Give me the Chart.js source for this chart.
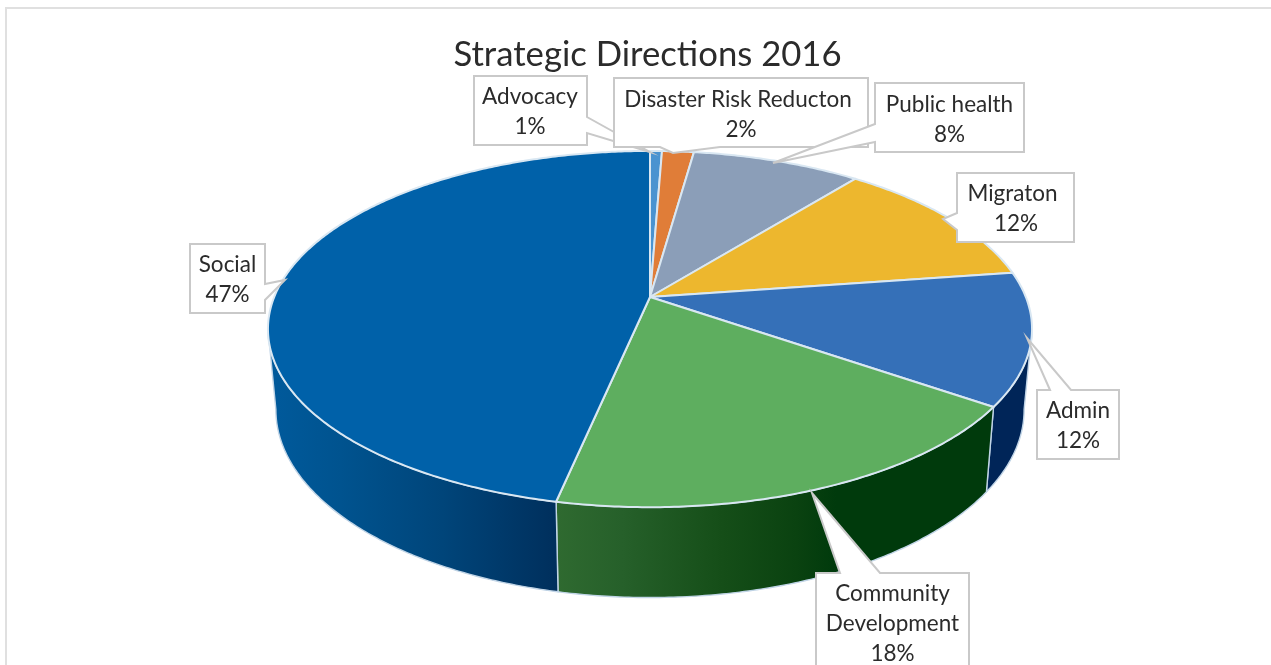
<!DOCTYPE html>
<html><head><meta charset="utf-8">
<style>html,body{margin:0;padding:0;background:#fff;overflow:hidden}canvas{display:block}</style>
<script src="https://cdn.jsdelivr.net/npm/chart.js@4"></script>
</head><body><canvas id="c" width="1271" height="665"></canvas>
<script>
const categories = ['Advocacy','Disaster Risk Reducton','Public health','Migraton','Admin','Community Development','Social'];
const shareValues = [0.6,1.6,8.5,12,12,18.6,46.7];
const shownPercent = ['1%','2%','8%','12%','12%','18%','47%'];
const topColors = ['#4a93d0','#e07d38','#8b9eb8','#edb72e','#3570b8','#5eae5f','#0061a9'];

/* perspective of the pie */
const K=-0.18, CX=650;
const TOP={a:375.8,b:118.9,c:297}, BOT={a:368,b:114,c:376};
const proj=(p,ang)=>{const s=Math.sin(ang),co=Math.cos(ang),w=1+K*s;return [CX+p.a*co/w,(p.c+p.b*s)/w];};
const sideStyle=[
 [[0,'#00305e'],[1,'#00305e']],
 [[0,'#00305e'],[1,'#00305e']],
 [[0,'#00305e'],[1,'#00305e']],
 [[0,'#002558'],[1,'#002558']],
 [[0,'#002558'],[1,'#002558']],
 [[0,'#003a0c'],[0.36,'#003a0c'],[0.45,'#0a4210'],[0.62,'#154e18'],[0.85,'#26602a'],[1,'#2f6a30']],
 [[0,'#002f5c'],[0.4,'#00457a'],[0.75,'#00538f'],[1,'#005a9c']]
];
const callouts=[
 {i:0,lines:['Advocacy'],poly:[[474,76],[587,76],[587,117],[650,152],[587,133],[587,145],[474,145]],cx:530,px:530,ys:[97,127]},
 {i:1,lines:['Disaster Risk Reducton'],poly:[[614,78],[868,78],[868,147],[720,147],[673,153],[660,147],[614,147]],cx:738,px:741,ys:[100,130]},
 {i:2,lines:['Public health'],poly:[[875,83],[1024,83],[1024,152],[875,152],[875,142],[773,163],[875,124]],cx:949.5,px:949.5,ys:[105,135]},
 {i:3,lines:['Migraton'],poly:[[957,173],[1074,173],[1074,242],[957,242],[957,230],[943,219],[957,213]],cx:1012.5,px:1016,ys:[194,224]},
 {i:4,lines:['Admin'],poly:[[1050,390],[1027,338],[1071,390],[1119,390],[1119,459],[1037,459],[1037,390]],cx:1078,px:1078,ys:[411,441]},
 {i:5,lines:['Community','Development'],poly:[[816,573],[840,573],[812,493],[880,573],[969,573],[969,680],[816,680]],cx:892.5,px:892.5,ys:[594,624,654]},
 {i:6,lines:['Social'],poly:[[190,244],[265,244],[265,284],[285,280],[265,300],[265,313],[190,313]],cx:227.5,px:227.5,ys:[265,295]}
];
const rim=(p,a0,a1,path,rev)=>{const n=Math.max(2,Math.ceil(Math.abs(a1-a0)/0.01));
  for(let k=0;k<=n;k++){const t=k/n,a=rev?a1+(a0-a1)*t:a0+(a1-a0)*t,q=proj(p,a);path.push(q);}};
const trace=(ctx,pts)=>{ctx.beginPath();pts.forEach((q,i)=>i?ctx.lineTo(q[0],q[1]):ctx.moveTo(q[0],q[1]));ctx.closePath();};

const pie3d={id:'pie3d',
 beforeDraw(ch){const c=ch.ctx;c.save();c.fillStyle='#fff';c.fillRect(0,0,1271,665);
   c.strokeStyle='#e0e0e0';c.lineWidth=2;c.beginPath();c.moveTo(6,665);c.lineTo(6,8);c.lineTo(1271,8);c.stroke();c.restore();},
 beforeDatasetDraw(ch,args){
  const c=ch.ctx,arcs=args.meta.data;
  const VIS0=0.18,VIS1=Math.PI-0.18;
  c.save();
  arcs.forEach((e,i)=>{
    const a0=Math.max(e.startAngle,VIS0),a1=Math.min(e.endAngle,VIS1);
    if(a1<=a0)return;
    const pts=[];rim(TOP,a0,a1,pts,false);rim(BOT,a0,a1,pts,true);
    const xs=pts.map(q=>q[0]),xmin=Math.min(...xs),xmax=Math.max(...xs);
    const gr=c.createLinearGradient(xmax,0,xmin,0);
    sideStyle[i].forEach(s=>gr.addColorStop(s[0],s[1]));
    c.fillStyle=gr;trace(c,pts);c.fill();
    c.strokeStyle='#c0d4e6';c.lineWidth=1.4;c.lineJoin='round';c.stroke();
  });
  arcs.forEach((e,i)=>{
    const pts=[[CX,TOP.c]];rim(TOP,e.startAngle,e.endAngle,pts,false);
    c.fillStyle=topColors[i];trace(c,pts);c.fill();
    c.strokeStyle='#d9e7f2';c.lineWidth=2;c.lineJoin='round';c.stroke();
  });
  c.restore();
  return false;
 },
 afterDatasetsDraw(ch){
  const c=ch.ctx;c.save();
  callouts.forEach(b=>{
    trace(c,b.poly);c.fillStyle='#fff';c.fill();
    c.strokeStyle='#c9c9c9';c.lineWidth=2;c.lineJoin='miter';c.stroke();
    c.fillStyle='#2b2b2b';c.font='22.5px Lato';c.textAlign='center';c.textBaseline='middle';
    b.lines.forEach((s,k)=>c.fillText(s,b.cx,b.ys[k]));
    c.fillText(shownPercent[b.i],b.px,b.ys[b.lines.length]);
  });
  c.restore();
 }
};
new Chart(document.getElementById('c'),{
 type:'pie',
 data:{labels:categories,datasets:[{data:shareValues,backgroundColor:topColors,borderColor:'#d9e7f2'}]},
 plugins:[pie3d],
 options:{responsive:false,animation:false,
  layout:{padding:{left:24}},
  plugins:{legend:{display:false},tooltip:{enabled:false},
   title:{display:true,text:'Strategic Directions 2016',fullSize:false,color:'#2b2b2b',
     font:{family:'Lato',size:34.7,weight:'normal'},padding:{top:34,bottom:0}}}}
});
</script></body></html>
